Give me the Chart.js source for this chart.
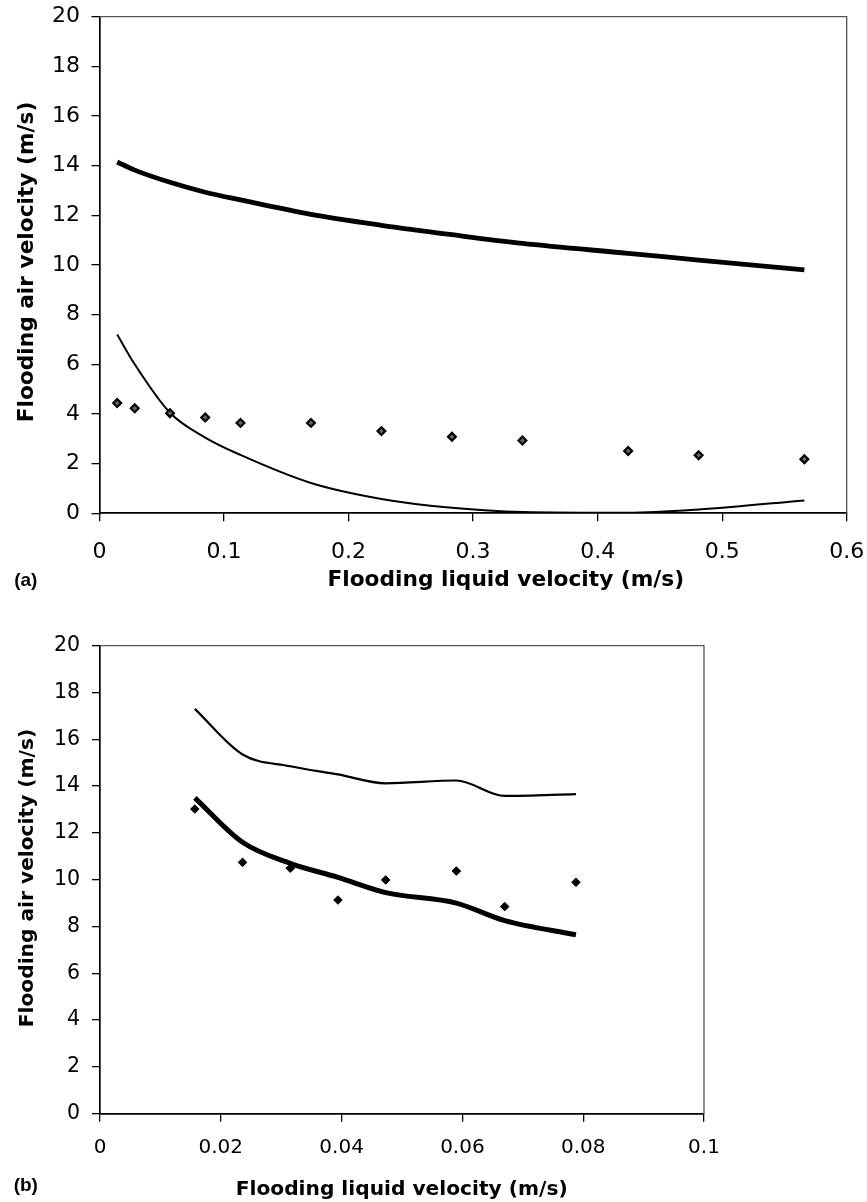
<!DOCTYPE html>
<html>
<head>
<meta charset="utf-8">
<script src="https://cdn.jsdelivr.net/npm/chart.js@4.4.1/dist/chart.umd.min.js"></script>
<style>
html,body{margin:0;padding:0;background:#fff;}
body{width:867px;height:1202px;position:relative;overflow:hidden;font-family:"DejaVu Sans",sans-serif;}
.box{position:absolute;left:0;width:867px;}
.lbl{position:absolute;white-space:nowrap;font-weight:bold;color:#000;line-height:normal;transform:translate(-50%,-50%);}
.rot{transform:translate(-50%,-50%) rotate(-90deg);}
.tag{font-family:"Liberation Sans",Arial,sans-serif;}
</style>
</head>
<body>
<div class="box" style="top:0;height:600px"><canvas id="ca"></canvas></div>
<div class="box" style="top:600px;height:602px"><canvas id="cb"></canvas></div>

<div class="lbl" style="left:505.8px;top:578.4px;font-size:21.7px">Flooding liquid velocity (m/s)</div>
<div class="lbl rot" style="left:24.9px;top:262.3px;font-size:21.7px">Flooding air velocity (m/s)</div>
<div class="lbl tag" style="left:25.8px;top:580.3px;font-size:19px">(a)</div>

<div class="lbl" style="left:401.7px;top:1188.1px;font-size:20.2px">Flooding liquid velocity (m/s)</div>
<div class="lbl rot" style="left:26.1px;top:878.3px;font-size:20.2px">Flooding air velocity (m/s)</div>
<div class="lbl tag" style="left:25.8px;top:1185.2px;font-size:19px">(b)</div>

<script>
// ---------- Panel (a) data ----------
const xA      = [0.0142, 0.0283, 0.0566, 0.0849, 0.1132, 0.1698, 0.2264, 0.283, 0.3396, 0.4245, 0.4811, 0.566];
const expA    = [4.44, 4.23, 4.03, 3.86, 3.64, 3.64, 3.31, 3.08, 2.93, 2.51, 2.34, 2.18];
const upperA  = [14.15, 13.82, 13.33, 12.93, 12.62, 12.04, 11.6, 11.22, 10.87, 10.47, 10.2, 9.8];
const lowerA  = [7.2, 6.0, 4.05, 3.05, 2.35, 1.22, 0.58, 0.22, 0.05, 0.02, 0.15, 0.52];
const xTicksA = [0, 0.1, 0.2, 0.3, 0.4, 0.5, 0.6];
const xTickLabelsA = ['0', '0.1', '0.2', '0.3', '0.4', '0.5', '0.6'];

// ---------- Panel (b) data ----------
const xB      = [0.0157, 0.0236, 0.0315, 0.0394, 0.0473, 0.059, 0.067, 0.0788];
const expB    = [13.02, 10.74, 10.49, 9.13, 9.99, 10.37, 8.85, 9.89];
const thickB  = [13.5, 11.6, 10.7, 10.1, 9.45, 9.0, 8.25, 7.65];
const thinB   = [17.3, 15.35, 14.85, 14.5, 14.12, 14.24, 13.58, 13.66];
const xTicksB = [0, 0.02, 0.04, 0.06, 0.08, 0.1];
const xTickLabelsB = ['0', '0.02', '0.04', '0.06', '0.08', '0.1'];

// ---------- shared y ticks ----------
const yTicks = [0, 2, 4, 6, 8, 10, 12, 14, 16, 18, 20];
const yTickLabels = ['0', '2', '4', '6', '8', '10', '12', '14', '16', '18', '20'];

function pts(xs, ys) { return xs.map((x, i) => ({x: x, y: ys[i]})); }

const framePlugin = {
  id: 'frame',
  beforeDatasetsDraw(chart) {
    const {ctx, chartArea: a} = chart;
    ctx.save();
    ctx.strokeStyle = '#555';
    ctx.lineWidth = 1.3;
    ctx.beginPath();
    ctx.moveTo(a.left, a.top);
    ctx.lineTo(a.right, a.top);
    ctx.lineTo(a.right, a.bottom);
    ctx.stroke();
    ctx.restore();
  }
};

function axis(ticksArr, labels, min, max, fontSize, pad, tl, fitProp, fitVal) {
  return {
    type: 'linear', min: min, max: max,
    afterBuildTicks: s => { s.ticks = ticksArr.map(v => ({value: v})); },
    afterFit: s => {
      s[fitProp] = fitVal;
      s.paddingLeft = 0; s.paddingRight = 0; s.paddingTop = 0; s.paddingBottom = 0;
    },
    ticks: {
      autoSkip: false, maxRotation: 0, minRotation: 0, padding: pad, color: '#000',
      font: {family: '"DejaVu Sans", sans-serif', size: fontSize},
      callback: (v, i) => labels[i]
    },
    grid: {drawOnChartArea: false, drawTicks: true, tickLength: tl, color: '#000', lineWidth: 1.3},
    border: {display: true, color: '#000', width: 1.7},
    title: {display: false}
  };
}

function lineDs(xs, ys, w, order) {
  return {
    data: pts(xs, ys), showLine: true, borderColor: '#000', borderWidth: w,
    pointRadius: 0, fill: false, cubicInterpolationMode: 'monotone', order: order,
    borderCapStyle: 'butt', borderJoinStyle: 'round'
  };
}
function pointDs(xs, ys, r, bw, bg, order) {
  return {
    data: pts(xs, ys), showLine: false, pointStyle: 'rectRot', pointRadius: r,
    pointBorderWidth: bw, pointBorderColor: '#000', pointBackgroundColor: bg, order: order
  };
}

const common = {
  responsive: true, maintainAspectRatio: false, animation: false, devicePixelRatio: 1,
  events: [],
  plugins: {legend: {display: false}, tooltip: {enabled: false}}
};

new Chart(document.getElementById('ca'), {
  type: 'scatter',
  data: {
    datasets: [
      pointDs(xA, expA, 3.9, 2.2, '#666', 0),
      lineDs(xA, upperA, 4.8, 1),
      lineDs(xA, lowerA, 2, 2)
    ]
  },
  options: Object.assign({}, common, {
    layout: {padding: {left: 0, right: 20.3, top: 16.7, bottom: 0}},
    scales: {
      x: axis(xTicksA, xTickLabelsA, 0, 0.6, 22, 17.4, 8, 'height', 86.7),
      y: axis(yTicks, yTickLabels, 0, 20, 22, 11.5, 8, 'width', 99.5)
    }
  }),
  plugins: [framePlugin]
});

new Chart(document.getElementById('cb'), {
  type: 'scatter',
  data: {
    datasets: [
      pointDs(xB, expB, 4.3, 1, '#000', 0),
      lineDs(xB, thickB, 5, 1),
      lineDs(xB, thinB, 2.2, 2)
    ]
  },
  options: Object.assign({}, common, {
    layout: {padding: {left: 0, right: 163, top: 45.7, bottom: 0}},
    scales: {
      x: axis(xTicksB, xTickLabelsB, 0, 0.1, 20, 14.4, 8, 'height', 88.3),
      y: axis(yTicks, yTickLabels, 0, 20, 20.5, 12, 8, 'width', 100)
    }
  }),
  plugins: [framePlugin]
});
</script>
</body>
</html>
